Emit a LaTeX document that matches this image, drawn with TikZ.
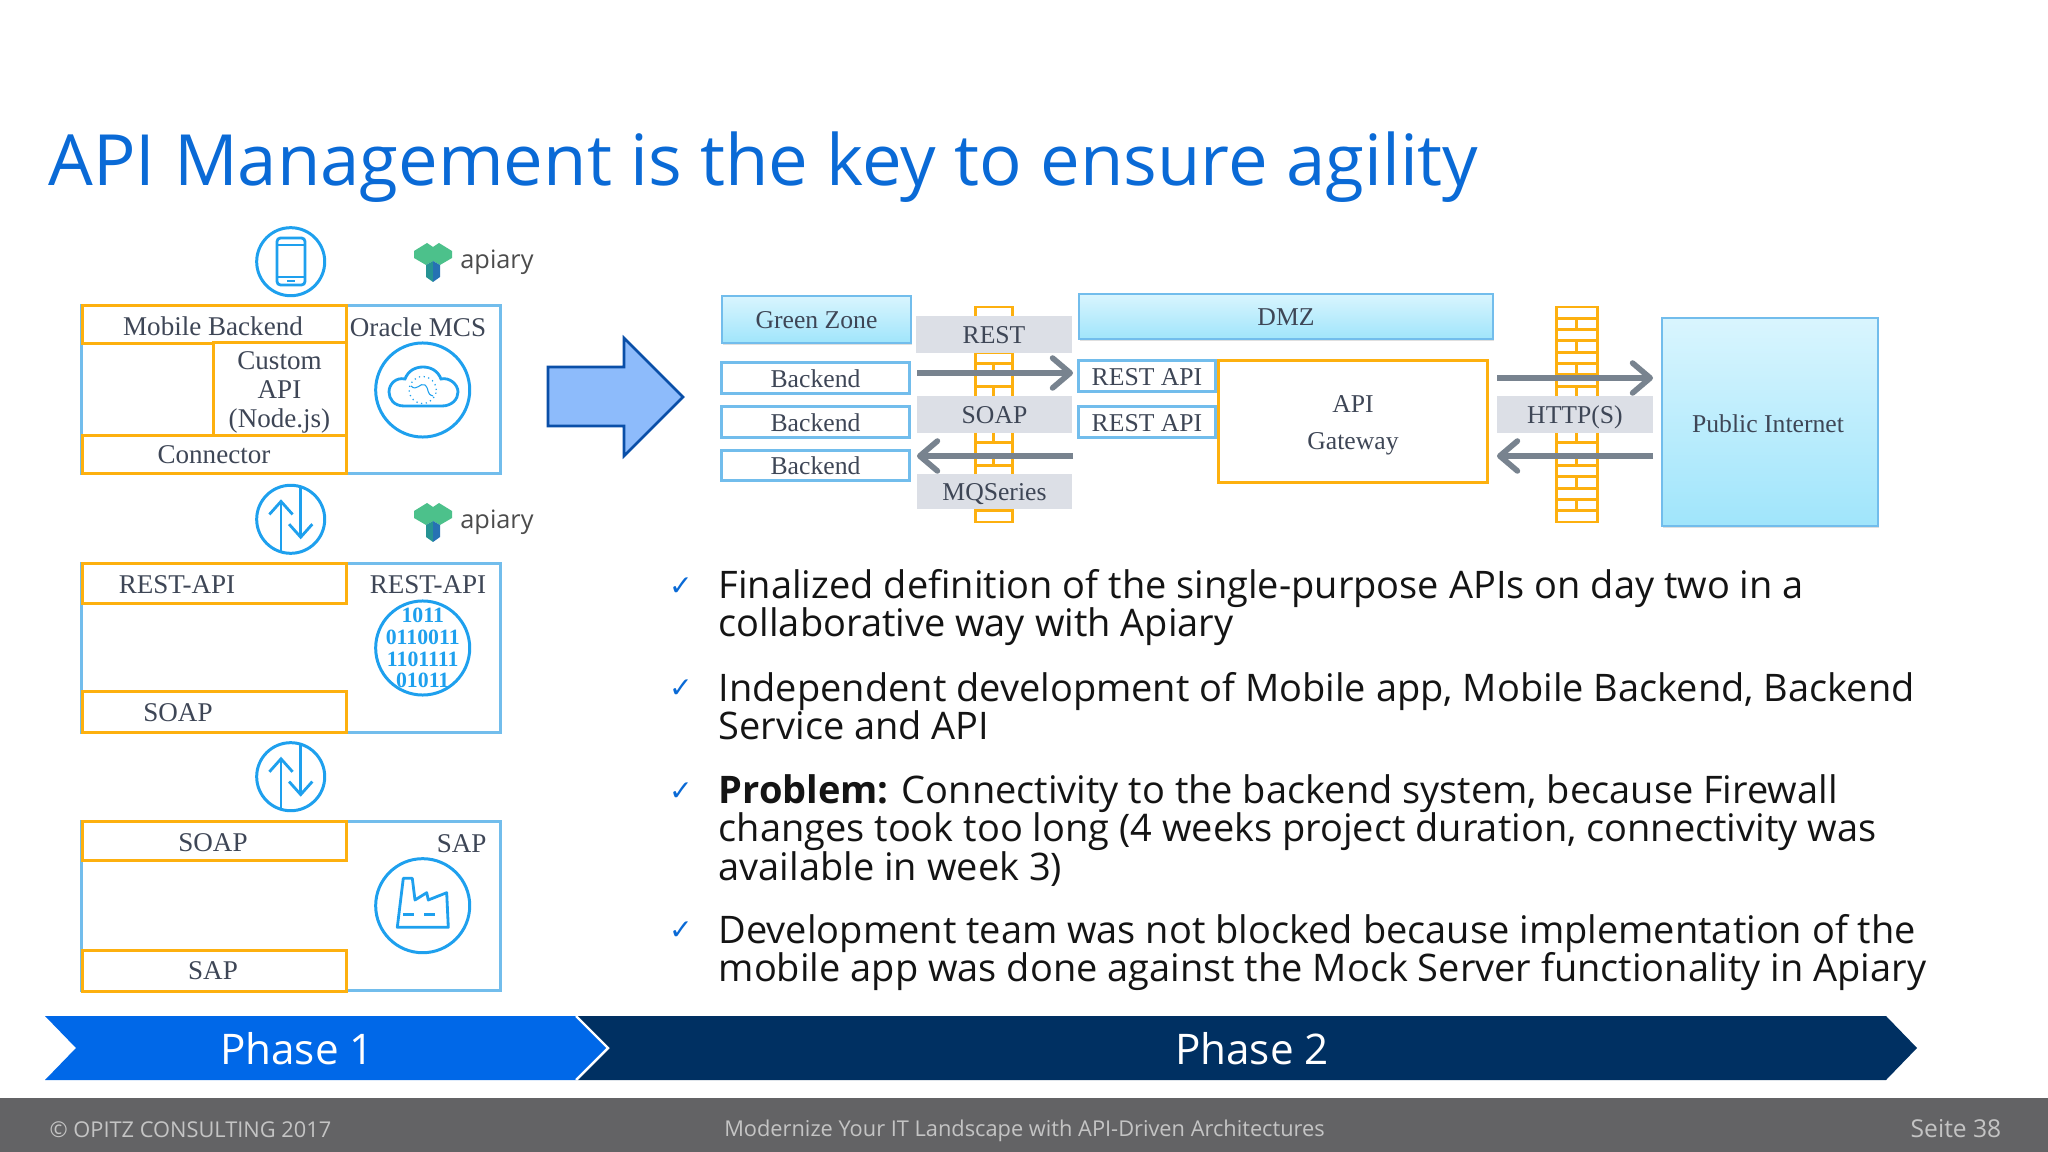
\documentclass[tikz,border=0pt]{standalone}
\usepackage{fontspec}
\setmainfont{Open Sans}
\newfontfamily\boxfont{Liberation Serif}
\usetikzlibrary{arrows.meta,shadows}

\definecolor{titleblue}{HTML}{0A6AD6}
\definecolor{phaseblue}{HTML}{0068E8}
\definecolor{phasenavy}{HTML}{003062}
\definecolor{footgrey}{HTML}{636365}
\definecolor{footinfo}{HTML}{C4C4C4}
\definecolor{boxorange}{HTML}{FDB00F}
\definecolor{boxblue}{HTML}{72BDEC}
\definecolor{iconblue}{HTML}{1EA0EE}
\definecolor{labelgrey}{HTML}{DCDFE6}
\definecolor{flowgrey}{HTML}{78838F}
\definecolor{boxtext}{HTML}{3E4656}
\definecolor{zonetop}{HTML}{D9F5FE}
\definecolor{zonebottom}{HTML}{A0E5FB}
\definecolor{arrowfill}{HTML}{8DBBFB}
\definecolor{arrowedge}{HTML}{0A4FA8}

\tikzset{
  boxlabel/.style={font=\boxfont\fontsize{7.7}{8.2}\selectfont, text=boxtext, align=center, inner sep=0pt},
  smalllabel/.style={boxlabel, font=\boxfont\fontsize{7.3}{8.2}\selectfont, text height=5.4pt, text depth=0pt},
  layerbox/.style={draw=boxblue, line width=0.85pt, fill=white, inner sep=0pt},
  orangebox/.style={draw=boxorange, line width=0.85pt, fill=white, inner sep=0pt},
  zonebox/.style={draw=boxblue, line width=0.5pt, top color=zonetop, bottom color=zonebottom,
    inner sep=0pt, drop shadow={opacity=0.25, shadow xshift=0.3pt, shadow yshift=-0.6pt}},
  greytag/.style={smalllabel, fill=labelgrey},
  iconring/.style={circle, draw=iconblue, line width=0.85pt, inner sep=0pt},
  iconline/.style={draw=iconblue, line width=0.8pt},
  flowarrow/.style={draw=flowgrey, line width=1.6pt, -{Straight Barb[length=5pt, width=8.5pt, round]}},
  bulletline/.style={anchor=base west, inner sep=0pt, font=\fontsize{10.8}{12}\selectfont, text=black!92},
  bulletmark/.style={inner sep=0pt, font=\fontsize{8}{9}\selectfont, text=titleblue},
  phaselabel/.style={text=white, inner sep=0pt, font=\fontsize{12}{14}\selectfont},
  footlabel/.style={text=footinfo, inner sep=0pt, font=\fontsize{6.2}{7}\selectfont},
  swapicon/.pic={
    \draw[iconline, -{Straight Barb[length=3.7pt, width=6.6pt]}] (-9.7,32.5) -- (-9.7,-20);
    \draw[iconline, -{Straight Barb[length=3.7pt, width=6.6pt]}] (10,-33.5) -- (10,20);
  },
  apiarylogo/.pic={
    \fill[green!30!teal!70] (-19,-10) -- (-6,-18) -- (0,-14) -- (6,-18) -- (19,-10) -- (19,-3) -- (7,4) -- (0,0) -- (-7,4) -- (-19,-3) -- cycle;
    \fill[teal!85] (-7,4) -- (0,0) -- (0,21) -- (-7,16) -- cycle;
    \fill[teal!70!blue!85] (0,0) -- (7,4) -- (7,16) -- (0,21) -- cycle;
  },
}

\begin{document}
\begin{tikzpicture}[x=0.01cm, y=-0.01cm]
  \useasboundingbox (0,0) rectangle (2048,1152);
  \fill[white] (0,0) rectangle (2048,1152);

  % Title
  \node[anchor=west, inner sep=0pt, text=titleblue, font=\fontsize{20.1}{24}\selectfont] (slidetitle) at (48,167) {API Management is the key to ensure agility};

  % Left stack, mobile layer
  \node[iconring, minimum size=0.68cm] (phonering) at (290.7,261.7) {};
  \draw[iconline, rounded corners=1pt] (277,238) rectangle (305,285);
  \draw[iconline] (277,245) -- (305,245) (277,277) -- (305,277) (287,281) -- (295,281);
  \pic at (433,261) {apiarylogo};
  \node[inner sep=0pt, text=black!70, font=\fontsize{7.2}{9}\selectfont] (apiaryone) at (497,262) {apiary};
  \node[layerbox, minimum width=4.18cm, minimum height=1.67cm] (mcslayer) at (291,389.5) {};
  \node[orangebox, minimum width=2.63cm, minimum height=0.37cm] (mobilebackend) at (214.5,324.5) {};
  \node[boxlabel] (mobiletext) at (213,326) {Mobile Backend};
  \node[orangebox, minimum width=1.32cm, minimum height=0.93cm] (customapi) at (280,389.5) {};
  \node[boxlabel] (customtext) at (279.5,392.5) {Custom\\API\\(Node.js)};
  \node[orangebox, minimum width=2.63cm, minimum height=0.37cm] (connector) at (214.5,454.5) {};
  \node[boxlabel] (connectortext) at (214,455) {Connector};
  \node[boxlabel] (mcstext) at (418,327) {Oracle MCS};
  \node[iconring, minimum size=0.94cm] (cloudring) at (422.7,390) {};
  \draw[iconline] (404,406) .. controls (394,406) and (389,399) .. (389,392) .. controls (389,384) and (396,377) .. (405,379) .. controls (408,371) and (415,367) .. (423,367) .. controls (431,367) and (438,371) .. (441,379) .. controls (449,377) and (458,384) .. (458,392) .. controls (458,399) and (452,406) .. (442,406) -- cycle;
  \node[circle, draw=iconblue, line width=0.35pt, densely dotted, minimum size=0.27cm, inner sep=0pt] (globeicon) at (422.7,390) {};
  \draw[iconblue, line width=0.3pt] (411,386) .. controls (417,392) and (420,382) .. (425,385) .. controls (430,390) and (426,394) .. (433,396);

  % Swap icons
  \node[iconring, minimum size=0.68cm] (swapone) at (290.7,519.3) {};
  \pic at (290.7,519.3) {swapicon};
  \node[iconring, minimum size=0.68cm] (swaptwo) at (290.7,776.7) {};
  \pic at (290.7,776.7) {swapicon};

  % Left stack, REST layer
  \pic at (433,521) {apiarylogo};
  \node[inner sep=0pt, text=black!70, font=\fontsize{7.2}{9}\selectfont] (apiarytwo) at (497,522) {apiary};
  \node[layerbox, minimum width=4.18cm, minimum height=1.68cm] (restlayer) at (291,648) {};
  \node[orangebox, minimum width=2.63cm, minimum height=0.39cm] (restbar) at (214.5,583.5) {};
  \node[boxlabel] (resttext) at (177,585) {REST-API};
  \node[orangebox, minimum width=2.63cm, minimum height=0.40cm] (soapbar) at (214.5,712) {};
  \node[boxlabel] (soaptext) at (178,713) {SOAP};
  \node[boxlabel] (restright) at (428,585) {REST-API};
  \node[iconring, minimum size=0.94cm] (binaryring) at (422.7,648) {};
  \begin{scope}
    \clip (422.7,648) circle[radius=46];
    \node[boxlabel, text=iconblue, font=\boxfont\bfseries\fontsize{6.2}{6.2}\selectfont] (binarytext) at (422.7,648) {1011\\0110011\\1101111\\01011};
  \end{scope}

  % Left stack, SAP layer
  \node[layerbox, minimum width=4.18cm, minimum height=1.69cm] (saplayer) at (291,906) {};
  \node[orangebox, minimum width=2.63cm, minimum height=0.38cm] (soaptop) at (214.5,841) {};
  \node[boxlabel] (soaptoptext) at (213,843) {SOAP};
  \node[orangebox, minimum width=2.63cm, minimum height=0.40cm] (sapbar) at (214.5,971) {};
  \node[boxlabel] (sapbartext) at (213,971) {SAP};
  \node[boxlabel] (sapright) at (461.7,844) {SAP};
  \node[iconring, minimum size=0.94cm] (factoryring) at (422.7,905.7) {};
  \draw[iconline, line join=round] (397.3,927.3) -- (403.3,878.3) -- (412.3,878.3) -- (415,900) -- (426.7,892.7) -- (428.3,900) -- (446.7,892.7) -- (448.3,927.3) -- cycle;
  \draw[iconline, dashed] (403,914.3) -- (441.7,914.3);

  % Big arrow
  \draw[fill=arrowfill, draw=arrowedge, line width=0.75pt] (548,367) -- (624,367) -- (624,338) -- (683,397) -- (624,456) -- (624,426) -- (548,426) -- cycle;

  % Firewalls
  \foreach \wallx/\wallw in {975/37, 1556/41} {
    \draw[boxorange, line width=0.85pt] (\wallx,307) rectangle ++(\wallw,215);
    \foreach \row in {1,...,18} {
      \draw[boxorange, line width=0.85pt] (\wallx,307+\row*11.33) -- ++(\wallw,0);
    }
    \foreach \row in {1,3,...,17} {
      \draw[boxorange, line width=0.85pt] (\wallx+\wallw/2,307+\row*11.33) -- ++(0,11.33);
    }
  }

  % Network zones
  \node[zonebox, smalllabel, minimum width=1.89cm, minimum height=0.47cm] (greenzone) at (816.5,319.5) {Green Zone};
  \foreach \y/\tag in {378/backendone, 422/backendtwo, 465.5/backendthree} {
    \node[layerbox, smalllabel, minimum width=1.87cm, minimum height=0.30cm] (\tag) at (815.5,\y) {Backend};
  }
  \node[zonebox, smalllabel, minimum width=4.14cm, minimum height=0.45cm] (dmz) at (1286,316.5) {DMZ};
  \node[layerbox, smalllabel, minimum width=1.36cm, minimum height=0.30cm] (restapione) at (1147,376) {REST API};
  \node[layerbox, smalllabel, minimum width=1.36cm, minimum height=0.30cm] (restapitwo) at (1147,422) {REST API};
  \node[orangebox, minimum width=2.68cm, minimum height=1.21cm] (gateway) at (1353,421.5) {};
  \node[smalllabel] (gatewayapi) at (1353,403) {API};
  \node[smalllabel] (gatewaytext) at (1353,440) {Gateway};
  \node[zonebox, smalllabel, minimum width=2.16cm, minimum height=2.08cm] (publicnet) at (1770,422) {};
  \node[smalllabel] (publictext) at (1768,423) {Public Internet};

  % Protocol tags
  \node[greytag, minimum width=1.56cm, minimum height=0.37cm] (resttag) at (994,334.5) {REST};
  \node[greytag, minimum width=1.55cm, minimum height=0.37cm] (soaptag) at (994.5,414.5) {SOAP};
  \node[greytag, minimum width=1.55cm, minimum height=0.35cm] (mqtag) at (994.5,491.5) {MQSeries};
  \node[greytag, minimum width=1.56cm, minimum height=0.37cm] (httptag) at (1575,414.5) {HTTP(S)};

  % Flows
  \coordinate (restfrom) at (917,373);
  \coordinate (restto) at (1073,373);
  \coordinate (mqfrom) at (1073,456);
  \coordinate (mqto) at (917,456);
  \coordinate (httpfrom) at (1497,378);
  \coordinate (httpto) at (1653,378);
  \coordinate (backfrom) at (1653,456);
  \coordinate (backto) at (1497,456);
  \draw[flowarrow] (restfrom) -- (restto);
  \draw[flowarrow] (mqfrom) -- (mqto);
  \draw[flowarrow] (httpfrom) -- (httpto);
  \draw[flowarrow] (backfrom) -- (backto);

  % Bullets
  \foreach \y/\tag in {587/markone, 689/marktwo, 792/markthree, 931/markfour} {
    \node[bulletmark] (\tag) at (681,\y) {\fontspec{DejaVu Sans}✓};
  }
  \node[bulletline] (lineone) at (718,598) {Finalized definition of the single-purpose APIs on day two in a};
  \node[bulletline] (linetwo) at (718,636.5) {collaborative way with Apiary};
  \node[bulletline] (linethree) at (718,701) {Independent development of Mobile app, Mobile Backend, Backend};
  \node[bulletline] (linefour) at (718,739.5) {Service and API};
  \node[bulletline] (linefive) at (718,803) {\textbf{Problem:} Connectivity to the backend system, because Firewall};
  \node[bulletline] (linesix) at (718,841.5) {changes took too long (4 weeks project duration, connectivity was};
  \node[bulletline] (lineseven) at (718,880) {available in week 3)};
  \node[bulletline] (lineeight) at (718,943) {Development team was not blocked because implementation of the};
  \node[bulletline] (linenine) at (718,981.5) {mobile app was done against the Mock Server functionality in Apiary};

  % Phases
  \fill[phasenavy] (576,1016) -- (1886,1016) -- (1917,1048) -- (1886,1080) -- (576,1080) -- (608,1048) -- cycle;
  \fill[phaseblue] (45,1016) -- (576,1016) -- (608,1048) -- (576,1080) -- (45,1080) -- (76,1048) -- cycle;
  \draw[white, line width=0.7pt] (576,1016) -- (608,1048) -- (576,1080);
  \node[phaselabel] (phaseone) at (297,1049) {Phase 1};
  \node[phaselabel] (phasetwo) at (1252,1049) {Phase 2};

  % Footer
  \fill[footgrey] (0,1098) rectangle (2048,1152);
  \node[footlabel, anchor=west] (footleft) at (49,1130) {© OPITZ CONSULTING 2017};
  \node[footlabel] (footmiddle) at (1024.5,1131) {Modernize Your IT Landscape with API-Driven Architectures};
  \node[footlabel, anchor=east, font=\fontsize{7}{8}\selectfont] (footright) at (2002,1129) {Seite 38};
\end{tikzpicture}
\end{document}
